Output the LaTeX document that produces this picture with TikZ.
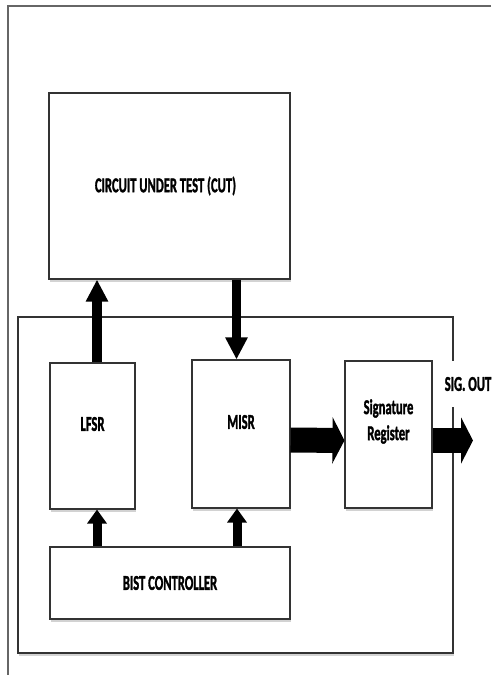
\documentclass[tikz,border=0pt]{standalone}
\usepackage{fontspec}
\setmainfont{Carlito}[BoldFeatures={FakeBold=2}]
\usepackage{graphicx}
\usetikzlibrary{arrows.meta,positioning,shadows}
\newcommand\sqz[1]{\scalebox{0.6}[1]{#1}}

\begin{document}
\begin{tikzpicture}[x=1pt,y=-1pt,font=\fontsize{21}{26}\selectfont\bfseries,
 blk/.style={draw=black!80,line width=1.1pt,fill=white,inner sep=0pt,align=center,
  drop shadow={shadow xshift=1pt,shadow yshift=-2.5pt,opacity=.35}},
 fatv/.style={line width=9.5pt,black,-{Triangle[width=21pt,length=22pt]}},
 fatb/.style={line width=9pt,black,-{Triangle[width=19pt,length=14pt]}},
 fath/.style={line width=25pt,black,-{Triangle[width=46pt,length=12pt]}}]
\useasboundingbox (0,0) rectangle (491,675);
\draw[black!60,line width=1.4pt] (491,6) -| (8,675);

\node[blk,minimum width=241,minimum height=186] (cut) at (169.5,186) {\sqz{CIRCUIT UNDER TEST (CUT)}\hspace*{8pt}};
\node[blk,minimum width=435,minimum height=336] (bistbox) at (235.5,485) {};
\node[blk,minimum width=85,minimum height=146] (lfsr) at (92.5,436) {};
\node[blk,minimum width=98,minimum height=148] (misr) at (241,434) {};
\node[blk,minimum width=87,minimum height=147] (sigreg) at (388.5,434.5) {};
\node[blk,minimum width=240,minimum height=72] (bist) at (170,583) {\sqz{BIST CONTROLLER}};
\node[align=center] at ([yshift=12]lfsr.center) {\sqz{LFSR}};
\node[align=center] at ([yshift=12]misr.center) {\sqz{MISR}};
\node[align=center] at ([yshift=13]sigreg.center) {\sqz{Signature}\\\sqz{Register}};
\node[fill=white,inner sep=0pt,minimum width=44,minimum height=46] (sigout) at (468,384) {\sqz{SIG. OUT}};

% connections
\draw[fatv] ([xshift=4.5]lfsr.north) -- ([xshift=4.5]lfsr.north |- cut.south);
\draw[fatv] ([xshift=-4.5]misr.north |- cut.south) -- ([xshift=-4.5]misr.north);
\draw[fatb] ([xshift=4.5]lfsr.south |- bist.north) -- ([xshift=4.5]lfsr.south);
\draw[fatb] ([xshift=-4]misr.south |- bist.north) -- ([xshift=-4]misr.south);
\draw[fath] ([yshift=-6]misr.east) -- ([yshift=-6]sigreg.west);
\coordinate (outend) at (473,440.5);
\draw[fath] ([yshift=-6]sigreg.east) -- (outend);
\end{tikzpicture}
\end{document}
